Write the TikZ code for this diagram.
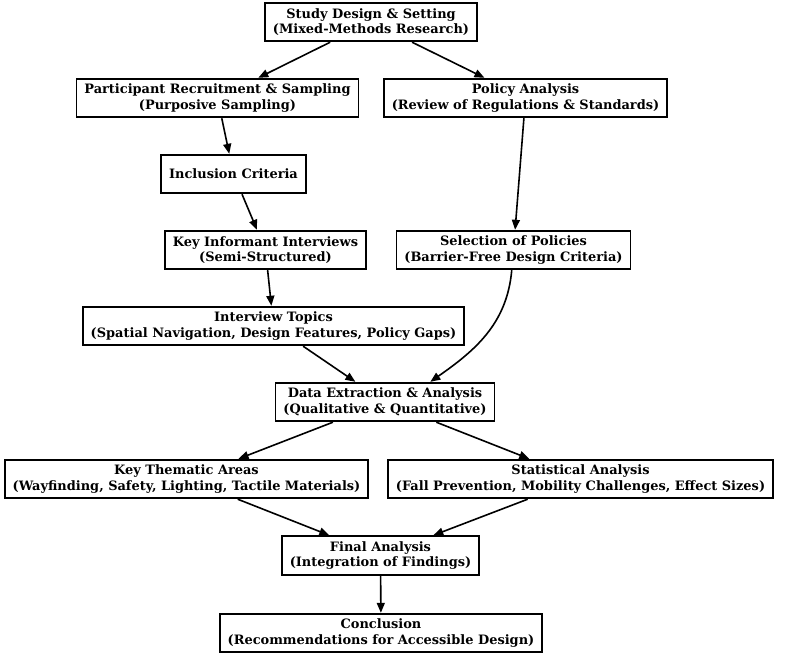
\documentclass[tikz,border=0pt]{standalone}
\usepackage{fontspec}
\setmainfont{DejaVu Serif}
\usetikzlibrary{arrows.meta}

\tikzset{
  etape/.style={draw, line width=1.3pt, align=center,
    font=\bfseries\fontsize{9.7}{11.8}\selectfont,
    inner xsep=6pt, inner ysep=3.5pt, minimum height=29pt},
  fleche/.style={-{Triangle[length=7.5pt,width=6pt]}, line width=1.2pt}
}

\begin{document}
\begin{tikzpicture}[x=0.75pt,y=-0.75pt]
\useasboundingbox (0,0) rectangle (787,656);

% les etapes
\node[etape] (study) at (371,22) {Study Design \& Setting\\(Mixed-Methods Research)};
\node[etape] (recruit) at (217.5,98) {Participant Recruitment \& Sampling\\(Purposive Sampling)};
\node[etape] (policy) at (525.5,98) {Policy Analysis\\(Review of Regulations \& Standards)};
\node[etape] (incl) at (233.5,174) {Inclusion Criteria};
\node[etape] (kii) at (265.5,250) {Key Informant Interviews\\(Semi-Structured)};
\node[etape] (select) at (513.5,250) {Selection of Policies\\(Barrier-Free Design Criteria)};
\node[etape] (topics) at (273.5,326) {Interview Topics\\(Spatial Navigation, Design Features, Policy Gaps)};
\node[etape] (data) at (385,402) {Data Extraction \& Analysis\\(Qualitative \& Quantitative)};
\node[etape] (themes) at (186.5,479) {Key Thematic Areas\\(Wayfinding, Safety, Lighting, Tactile Materials)};
\node[etape] (stats) at (580.5,479) {Statistical Analysis\\(Fall Prevention, Mobility Challenges, Effect Sizes)};
\node[etape] (final) at (380.5,555.5) {Final Analysis\\(Integration of Findings)};
\node[etape] (concl) at (381,633) {Conclusion\\(Recommendations for Accessible Design)};

% les liaisons
\foreach \a/\b in {study/recruit,study/policy,recruit/incl,incl/kii,policy/select,
    kii/topics,topics/data,data/themes,data/stats,themes/final,stats/final,final/concl}
  \draw[fleche] (\a)--(\b);

% la liaison courbe
\draw[fleche] (select) to[out=-95,in=35] ([xshift=34pt]data.north);
\end{tikzpicture}
\end{document}
